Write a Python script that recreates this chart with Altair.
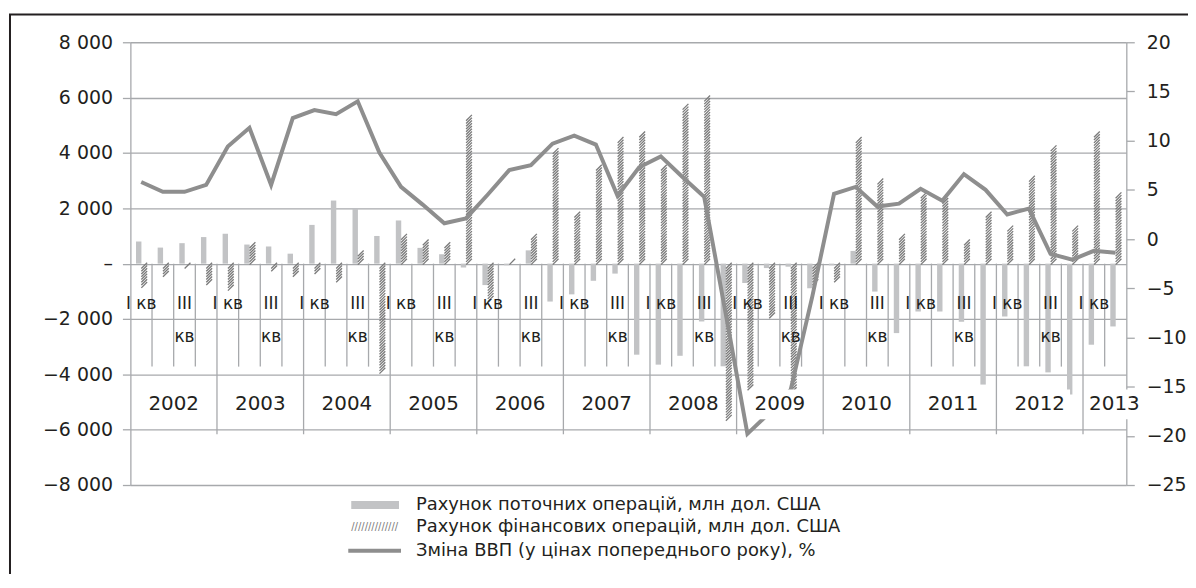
import altair as alt
import pandas as pd

# ---------------- data ----------------
years = ["2002", "2003", "2004", "2005", "2006", "2007", "2008", "2009",
         "2010", "2011", "2012", "2013"]
# quarterly series, 2002 Q1 ... 2013 Q2 (46 quarters)
current_account = [800, 580, 740, 960, 1080, 690, 620, 360,
                   1400, 2280, 1980, 1000, 1560, 570, 340, -140,
                   -775, -60, 480, -1370, -1110, -620, -360, -3290,
                   -3650, -3330, -2090, -3710, -700, -160, -110, -890,
                   -60, 460, -1010, -2510, -1730, -1730, -2100, -4370,
                   -1910, -3710, -3930, -4730, -2930, -2270]
financial_account = [-840, -456, -100, -690, -900, 690, -180, -420,
                     -360, -576, 390, -3950, 1025, 845, 727, 5340,
                     -1310, 120, 1025, 4140, 1780, 3500, 4500, 4760,
                     3480, 5700, 6020, -5640, -4550, -1910, -4600, -770,
                     -650, 4540, 2980, 1025, 2520, 2340, 845, 1800,
                     1350, 3120, 4230, 1350, 4710, 2550]
gdp_change = [5.8, 4.8, 4.8, 5.5, 9.4, 11.3, 5.5, 12.3,
              13.1, 12.7, 14.0, 8.8, 5.3, 3.5, 1.6, 2.1,
              4.5, 7.0, 7.5, 9.7, 10.5, 9.6, 4.4, 7.3,
              8.4, 6.3, 4.3, -7.6, -19.8, -17.7, -15.3, -5.8,
              4.6, 5.3, 3.3, 3.6, 5.1, 3.9, 6.6, 5.0,
              2.5, 3.1, -1.5, -2.1, -1.2, -1.4]
left_ticks = [-8000, -6000, -4000, -2000, 0, 2000, 4000, 6000, 8000]
right_ticks = [-25, -20, -15, -10, -5, 0, 5, 10, 15, 20]
q1_label = "I кв"
q3_label_top = "III"
q3_label_bottom = "кв"
legend_labels = ["Рахунок поточних операцій, млн дол. США",
                 "Рахунок фінансових операцій, млн дол. США",
                 "Зміна ВВП (у цінах попереднього року), %"]

n_q = len(current_account)

df = pd.DataFrame({
    "i": list(range(n_q)),
    "cur": current_account,
    "fin": financial_account,
    "gdp": gdp_change,
})

# quarter boundaries and labels
bounds = pd.DataFrame({"k": list(range(1, n_q))})
bounds["is_year"] = bounds["k"] % 4 == 0
q_rows = []
for y in range(len(years)):
    for q in range(4):
        idx = y * 4 + q
        if idx >= n_q:
            continue
        if q == 0:
            q_rows.append({"pos": idx + 0.5, "t1": q1_label, "t2": ""})
        elif q == 2:
            q_rows.append({"pos": idx + 0.5, "t1": q3_label_top, "t2": q3_label_bottom})
qlab = pd.DataFrame(q_rows)
year_pos = [y * 4 + 2 for y in range(len(years) - 1)] + [45.45]
ylab = pd.DataFrame({"year": years, "pos": year_pos})

# ---------------- styles ----------------
FONT = "DejaVu Sans"
TXT = "#231f20"
GRID = "#a7a9ac"
SOLID = "#c2c3c5"
HATCH = "#7a7a7a"
LINE = "#8e8e8e"

xs = alt.Scale(domain=[0, n_q], nice=False, zero=False)
ys_left = alt.Scale(domain=[-8000, 8000], nice=False, zero=False)
ys_right = alt.Scale(domain=[-25, 20], nice=False, zero=False)

left_axis = alt.Axis(
    orient="left", values=left_ticks, title=None, grid=True,
    gridColor=GRID, gridWidth=1.3, domainColor=GRID, domainWidth=1.3,
    tickColor=GRID, tickWidth=1.3, tickSize=8, labelPadding=10,
    labelFont=FONT, labelFontSize=19, labelColor=TXT,
    labelExpr="datum.value == 0 ? '–' : replace(format(datum.value, ','), ',', ' ')",
)
right_axis = alt.Axis(
    orient="right", values=right_ticks, title=None, grid=False,
    domainColor=GRID, domainWidth=1.3, tickColor=GRID, tickWidth=1.3,
    tickSize=8, labelPadding=12, labelFont=FONT, labelFontSize=19,
    labelColor=TXT, format="d",
)

base = alt.Chart(df)

bars_cur = base.transform_calculate(
    xa="datum.i + 0.26", xb="datum.i + 0.51"
).mark_bar(color=SOLID).encode(
    x=alt.X("xa:Q", scale=xs, axis=None),
    x2="xb:Q",
    y=alt.Y("cur:Q", scale=ys_left, axis=left_axis),
    y2=alt.datum(0),
)

hatch = base.transform_calculate(
    hs="datum.fin >= 0 ? sequence(70, datum.fin, 100) : sequence(-70, datum.fin, -100)",
    xc="datum.i + 0.64",
).transform_flatten(["hs"]).mark_point(
    shape="M -1 1 L 1 -1", size=34, filled=False, strokeWidth=1.3,
    color=HATCH, opacity=1,
).encode(
    x=alt.X("xc:Q", scale=xs, axis=None),
    y=alt.Y("hs:Q", scale=ys_left, axis=None),
)

qticks = alt.Chart(bounds).transform_filter("!datum.is_year").mark_rule(
    color=GRID, strokeWidth=1.3
).encode(
    x=alt.X("k:Q", scale=xs, axis=None),
    y=alt.value(222.5), y2=alt.value(326),
)
yticks = alt.Chart(bounds).transform_filter("datum.is_year").mark_rule(
    color=GRID, strokeWidth=1.3
).encode(
    x=alt.X("k:Q", scale=xs, axis=None),
    y=alt.value(222.5), y2=alt.value(394),
)

line = base.transform_calculate(xm="datum.i + 0.5").mark_line(
    color=LINE, strokeWidth=4
).encode(
    x=alt.X("xm:Q", scale=xs, axis=None),
    y=alt.Y("gdp:Q", scale=ys_right, axis=right_axis),
)

qtext1 = alt.Chart(qlab).mark_text(
    font=FONT, fontSize=17, color=TXT, baseline="middle", align="center"
).encode(
    x=alt.X("pos:Q", scale=xs, axis=None),
    y=alt.value(263), text="t1:N",
)
qtext2 = alt.Chart(qlab).mark_text(
    font=FONT, fontSize=17, color=TXT, baseline="middle", align="center"
).encode(
    x=alt.X("pos:Q", scale=xs, axis=None),
    y=alt.value(296.5), text="t2:N",
)

ybox = alt.Chart(ylab).transform_calculate(
    b1="datum.pos - 1.4", b2="datum.pos + 1.4"
).mark_rect(color="white").encode(
    x=alt.X("b1:Q", scale=xs, axis=None), x2="b2:Q",
    y=alt.value(349), y2=alt.value(379),
)
ytext = alt.Chart(ylab).mark_text(
    font=FONT, fontSize=20, color=TXT, baseline="middle", align="center"
).encode(
    x=alt.X("pos:Q", scale=xs, axis=None),
    y=alt.value(364), text="year:N",
)

# ---------------- legend ----------------
one = pd.DataFrame({"a": [0]})
leg_solid = alt.Chart(one).mark_rect(color=SOLID).encode(
    x=alt.value(222), x2=alt.value(270), y=alt.value(461), y2=alt.value(469)
)
leg_hatch = alt.Chart(one).mark_text(
    text="//////////////", font=FONT, fontSize=10, color=HATCH,
    align="left", baseline="middle"
).encode(x=alt.value(222), y=alt.value(487))
leg_line = alt.Chart(one).mark_rule(color=LINE, strokeWidth=4).encode(
    x=alt.value(219), x2=alt.value(272), y=alt.value(511)
)
leg_texts = [
    alt.Chart(one).mark_text(
        text=lbl, font=FONT, fontSize=18, color=TXT, align="left", baseline="middle"
    ).encode(x=alt.value(287), y=alt.value(yy))
    for lbl, yy in zip(legend_labels, [465, 487, 511])
]

frame = alt.Chart(one).mark_rect(
    fillOpacity=0, stroke="#231f20", strokeWidth=2
).encode(
    x=alt.value(-121), x2=alt.value(1080), y=alt.value(-28), y2=alt.value(620)
)

chart = alt.layer(
    bars_cur, hatch, qticks, yticks, line, qtext1, qtext2, ybox, ytext,
    leg_solid, leg_hatch, leg_line, *leg_texts, frame,
).resolve_scale(y="independent").properties(
    width=1001, height=445,
    autosize=alt.AutoSizeParams(type="none"),
    padding={"left": 123, "top": 33, "right": 62, "bottom": 88},
    background="white",
).configure_view(stroke=None)

chart.save("out.html", embed_options={"renderer": "svg", "actions": False})
